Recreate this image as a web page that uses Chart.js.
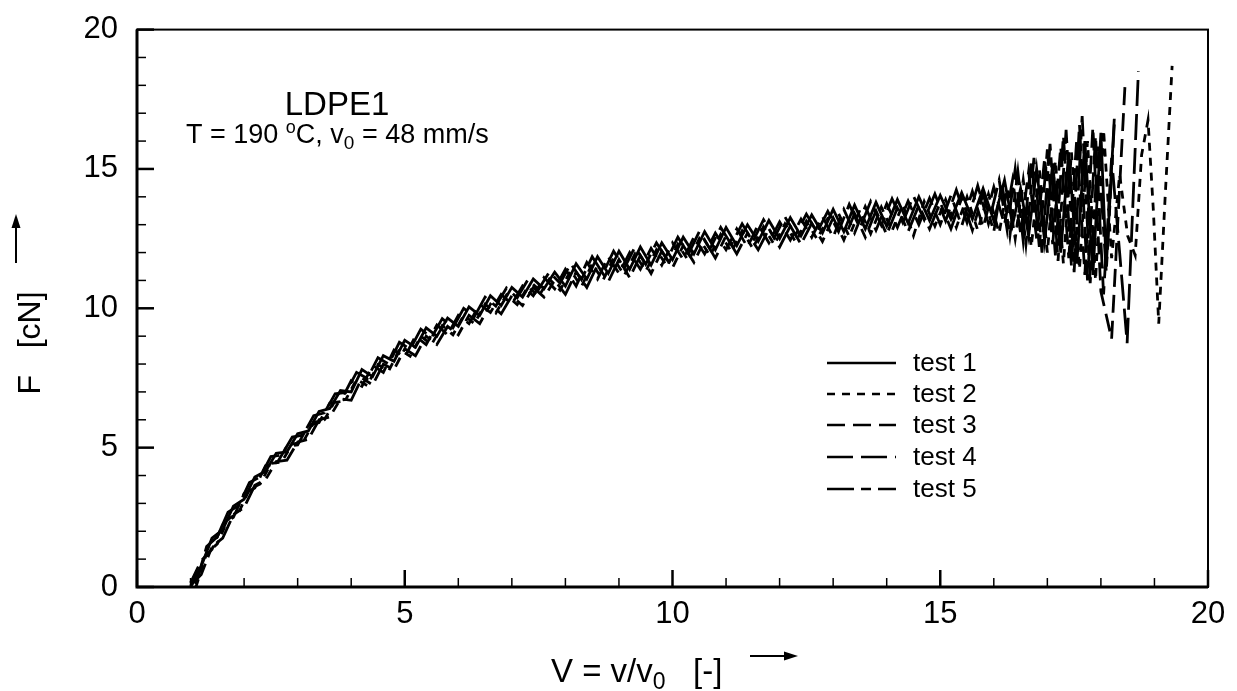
<!DOCTYPE html>
<html>
<head>
<meta charset="utf-8">
<script src="https://cdn.jsdelivr.net/npm/chart.js@4"></script>
<style>
  body { margin: 0; background: #fff; }
  canvas { display: block; }
</style>
</head>
<body>
<canvas id="chartForce" width="1237" height="691"></canvas>
<script>
// stretch ratio V on shared grids
const vGridA = [1.0, 1.2, 1.4, 1.6, 1.8, 2.0, 2.2, 2.4, 2.6, 2.8, 3.0, 3.2, 3.4, 3.6, 3.8, 4.0, 4.2, 4.4, 4.6, 4.8,
    5.0, 5.2, 5.4, 5.6, 5.8, 6.0, 6.2, 6.4, 6.6, 6.8, 7.0, 7.2, 7.4, 7.6, 7.8, 8.0, 8.2, 8.4, 8.6, 8.8,
    9.0, 9.2, 9.4, 9.6, 9.8, 10.0, 10.2, 10.4, 10.6, 10.8, 11.0, 11.2, 11.4, 11.6, 11.8, 12.0, 12.2, 12.4, 12.6, 12.8,
    13.0, 13.2, 13.4, 13.6, 13.8, 14.0, 14.2, 14.4, 14.6, 14.8, 15.0, 15.2, 15.4, 15.6, 15.8, 16.0];
const vGridB = [1.1, 1.3, 1.5, 1.7, 1.9, 2.1, 2.3, 2.5, 2.7, 2.9, 3.1, 3.3, 3.5, 3.7, 3.9, 4.1, 4.3, 4.5, 4.7, 4.9,
    5.1, 5.3, 5.5, 5.7, 5.9, 6.1, 6.3, 6.5, 6.7, 6.9, 7.1, 7.3, 7.5, 7.7, 7.9, 8.1, 8.3, 8.5, 8.7, 8.9,
    9.1, 9.3, 9.5, 9.7, 9.9, 10.1, 10.3, 10.5, 10.7, 10.9, 11.1, 11.3, 11.5, 11.7, 11.9, 12.1, 12.3, 12.5, 12.7, 12.9,
    13.1, 13.3, 13.5, 13.7, 13.9, 14.1, 14.3, 14.5, 14.7, 14.9, 15.1, 15.3, 15.5, 15.7, 15.9];

// force F [cN], body of each test
const forceTest1 = [0.0, 0.75, 1.75, 2.05, 2.9, 3.15, 3.95, 4.15, 4.8, 4.85, 5.5, 5.6, 6.3, 6.4, 7.05, 7.0, 7.8, 7.55, 8.3, 8.1,
    8.85, 8.6, 9.3, 9.0, 9.65, 9.35, 10.05, 9.75, 10.45, 10.1, 10.75, 10.4, 11.05, 10.7, 11.3, 10.8, 11.6, 11.05, 11.85, 11.25,
    12.05, 11.4, 12.2, 11.55, 12.35, 11.75, 12.55, 11.95, 12.75, 12.1, 12.9, 12.25, 13.0, 12.4, 13.15, 12.5, 13.25, 12.6, 13.35, 12.7,
    13.55, 12.75, 13.7, 12.85, 13.8, 12.95, 13.9, 13.05, 14.0, 13.15, 14.05, 13.2, 14.15, 13.2, 14.3, 13.15];
const forceTest2 = [0.0, 1.2, 1.55, 2.43, 2.68, 3.5, 3.7, 4.43, 4.48, 5.13, 5.2, 5.9, 6.0, 6.68, 6.73, 7.45, 7.23, 7.98, 7.75, 8.53,
    8.28, 9.0, 8.7, 9.38, 9.05, 9.75, 9.45, 10.15, 9.83, 10.48, 10.13, 10.78, 10.43, 11.05, 10.65, 11.35, 10.78, 11.6, 11.0, 11.8,
    11.18, 11.95, 11.33, 12.1, 11.5, 12.3, 11.7, 12.5, 11.88, 12.65, 12.03, 12.78, 12.15, 12.93, 12.28, 13.03, 12.38, 13.13, 12.48, 13.23,
    13.4, 12.58, 13.53, 12.68, 13.63, 12.78, 13.73, 12.6, 13.83, 12.95, 13.9, 12.9, 14.0, 12.8, 14.1];
const forceTest3 = [0.15, 0.95, 1.35, 2.25, 2.5, 3.35, 3.55, 4.35, 4.4, 5.05, 5.1, 5.8, 5.9, 6.6, 6.65, 7.4, 7.2, 7.95, 7.7, 8.5,
    8.25, 9.0, 8.7, 9.4, 9.05, 9.75, 9.45, 10.15, 9.85, 10.5, 10.15, 10.8, 10.45, 11.1, 10.7, 11.4, 10.8, 11.65, 11.05, 11.85,
    11.25, 12.0, 11.4, 12.15, 11.55, 12.35, 11.75, 12.55, 11.95, 12.7, 12.1, 12.85, 12.2, 13.0, 12.35, 13.1, 12.45, 13.2, 12.55, 13.3,
    12.55, 13.55, 12.7, 13.65, 12.8, 13.75, 12.9, 13.85, 13.0, 13.95, 13.0, 14.05, 12.95, 14.2, 12.9, 14.35];
const forceTest4 = [0.1, 1.45, 1.8, 2.68, 2.93, 3.75, 3.95, 4.68, 4.73, 5.38, 5.45, 6.15, 6.25, 6.93, 6.98, 7.7, 7.48, 8.23, 8.0, 8.78,
    8.53, 9.25, 8.95, 9.63, 9.3, 10.0, 9.7, 10.4, 10.08, 10.73, 10.38, 11.03, 10.68, 11.3, 10.9, 11.6, 11.03, 11.85, 11.25, 12.05,
    11.43, 12.2, 11.58, 12.35, 11.75, 12.55, 11.95, 12.75, 12.13, 12.9, 12.28, 13.03, 12.4, 13.18, 12.53, 13.28, 12.63, 13.38, 12.73, 13.48,
    12.75, 13.73, 12.88, 13.83, 12.98, 13.93, 13.08, 14.03, 13.18, 14.1, 13.13, 14.25, 13.08, 14.4, 13.03];
const forceTest5 = [0.05, 0.45, 1.45, 1.75, 2.6, 2.85, 3.65, 3.85, 4.5, 4.55, 5.2, 5.3, 6.0, 6.1, 6.75, 6.7, 7.5, 7.25, 8.0, 7.8,
    8.55, 8.3, 9.0, 8.7, 9.35, 9.05, 9.75, 9.45, 10.15, 9.8, 10.45, 10.1, 10.75, 10.4, 11.0, 10.5, 11.3, 10.75, 11.55, 10.95,
    11.75, 11.1, 11.9, 11.25, 12.05, 11.45, 12.25, 11.65, 12.45, 11.8, 12.6, 11.95, 12.7, 12.1, 12.85, 12.2, 12.95, 12.3, 13.05, 12.4,
    13.25, 12.45, 13.4, 12.55, 13.5, 12.65, 13.6, 12.75, 13.7, 12.85, 13.8, 12.85, 13.95, 12.8, 14.1, 12.75];

// unstable end of each test, just before break
const tailV1 = [16.2, 16.35, 16.5, 16.65, 16.8, 16.95, 17.1, 17.25, 17.4, 17.55, 17.7, 17.85, 18.0, 18.1, 18.25];
const tailF1 = [14.6, 13.0, 14.3, 12.6, 15.0, 12.4, 15.2, 12.0, 15.6, 11.6, 16.0, 11.2, 16.3, 11.5, 16.8];
const tailV2 = [16.1, 16.25, 16.4, 16.55, 16.7, 16.85, 17.0, 17.15, 17.3, 17.45, 17.6, 17.75, 17.9, 18.05, 18.2, 18.35, 18.5, 18.64, 18.76, 18.88, 18.98, 19.08, 19.2, 19.33];
const tailF2 = [12.7, 14.3, 12.5, 14.6, 12.2, 15.0, 12.0, 15.3, 11.6, 15.6, 11.4, 16.0, 11.0, 16.4, 11.8, 14.8, 12.6, 11.9, 15.5, 16.75, 13.5, 9.45, 14.0, 18.7];
const tailV3 = [16.2, 16.35, 16.5, 16.65, 16.8, 16.95, 17.1, 17.25, 17.4, 17.55, 17.7, 17.85, 18.0, 18.2, 18.45];
const tailF3 = [13.0, 14.6, 12.7, 14.9, 12.5, 15.4, 12.3, 15.8, 11.8, 16.1, 11.2, 16.5, 10.6, 8.9, 18.0];
const tailV4 = [16.1, 16.25, 16.4, 16.55, 16.7, 16.85, 17.0, 17.15, 17.3, 17.45, 17.6, 17.75, 17.9, 18.05, 18.2, 18.35, 18.49, 18.7];
const tailF4 = [14.6, 12.8, 15.0, 12.4, 15.3, 12.2, 15.7, 11.9, 16.2, 11.5, 16.6, 11.0, 16.2, 10.5, 15.4, 12.0, 8.75, 18.5];
const tailV5 = [16.15, 16.3, 16.45, 16.6, 16.75, 16.9, 17.05, 17.2, 17.35, 17.5, 17.65, 17.8, 17.95, 18.1, 18.25];
const tailF5 = [14.5, 12.6, 14.9, 12.3, 15.4, 12.0, 15.9, 11.7, 16.4, 11.3, 16.9, 10.9, 15.8, 11.3, 16.6];

const testLabels = ["test 1", "test 2", "test 3", "test 4", "test 5"];
const xTickLabels = [0, 5, 10, 15, 20];
const yTickLabels = [0, 5, 10, 15, 20];

const FONT = "'Liberation Sans', Arial, sans-serif";

function toPoints(xs, ys, tx, ty) {
    const pts = xs.map((x, i) => ({ x: x, y: ys[i] }));
    return pts.concat(tx.map((x, i) => ({ x: x, y: ty[i] })));
}

const dashes = [[], [8, 7], [18, 8], [26, 8], [27, 7, 10, 7]];
const series = [
    toPoints(vGridA, forceTest1, tailV1, tailF1),
    toPoints(vGridB, forceTest2, tailV2, tailF2),
    toPoints(vGridA, forceTest3, tailV3, tailF3),
    toPoints(vGridB, forceTest4, tailV4, tailF4),
    toPoints(vGridA, forceTest5, tailV5, tailF5),
];

// draw text made of runs [text, size, dy] (for sub/superscripts)
function drawRuns(ctx, x, y, runs, align) {
    let total = 0;
    runs.forEach(r => { ctx.font = r[1] + 'px ' + FONT; total += ctx.measureText(r[0]).width; });
    let cx = align === 'center' ? x - total / 2 : x;
    ctx.textAlign = 'left';
    runs.forEach(r => {
        ctx.font = r[1] + 'px ' + FONT;
        ctx.fillText(r[0], cx, y + r[2]);
        cx += ctx.measureText(r[0]).width;
    });
}

function arrow(ctx, x1, y1, x2, y2) {
    const ang = Math.atan2(y2 - y1, x2 - x1);
    ctx.lineWidth = 2;
    ctx.setLineDash([]);
    ctx.beginPath();
    ctx.moveTo(x1, y1);
    ctx.lineTo(x2 - 12 * Math.cos(ang), y2 - 12 * Math.sin(ang));
    ctx.stroke();
    ctx.beginPath();
    ctx.moveTo(x2, y2);
    ctx.lineTo(x2 - 14 * Math.cos(ang) + 4.5 * Math.sin(ang), y2 - 14 * Math.sin(ang) - 4.5 * Math.cos(ang));
    ctx.lineTo(x2 - 14 * Math.cos(ang) - 4.5 * Math.sin(ang), y2 - 14 * Math.sin(ang) + 4.5 * Math.cos(ang));
    ctx.closePath();
    ctx.fill();
}

const decorations = {
    id: 'decorations',
    afterDraw(chart) {
        const { ctx, chartArea: a, scales: { x, y } } = chart;
        ctx.save();
        ctx.strokeStyle = '#000';
        ctx.fillStyle = '#000';
        ctx.setLineDash([]);

        // frame
        ctx.lineWidth = 2;
        ctx.strokeRect(a.left, a.top, a.right - a.left, a.bottom - a.top);
        ctx.lineWidth = 3;
        ctx.beginPath();
        ctx.moveTo(a.left, a.top);
        ctx.lineTo(a.left, a.bottom);
        ctx.lineTo(a.right, a.bottom);
        ctx.stroke();

        // inward ticks
        x.ticks.forEach(t => {
            const px = x.getPixelForValue(t.value);
            const major = t.value % 5 === 0;
            ctx.lineWidth = major ? 2.5 : 1.5;
            ctx.beginPath();
            ctx.moveTo(px, a.bottom);
            ctx.lineTo(px, a.bottom - (major ? 17 : 9));
            ctx.stroke();
        });
        y.ticks.forEach(t => {
            const py = y.getPixelForValue(t.value);
            const major = t.value % 5 === 0;
            ctx.lineWidth = major ? 2.5 : 1.5;
            ctx.beginPath();
            ctx.moveTo(a.left, py);
            ctx.lineTo(a.left + (major ? 17 : 9), py);
            ctx.stroke();
        });

        ctx.textBaseline = 'alphabetic';
        // annotation
        drawRuns(ctx, 337, 115, [["LDPE1", 33, 0]], 'center');
        drawRuns(ctx, 186, 143, [["T = 190 ", 27, 0], ["o", 18, -10], ["C, v", 27, 0], ["0", 19, 6], [" = 48 mm/s", 27, 0]], 'left');

        // x axis title
        drawRuns(ctx, 551, 682, [["V = v/v", 33, 0], ["0", 23, 7], ["   [-]", 33, 0]], 'left');
        arrow(ctx, 750, 656, 798, 656);

        // y axis title
        ctx.save();
        ctx.translate(40, 343);
        ctx.rotate(-Math.PI / 2);
        drawRuns(ctx, 0, 0, [["F   [cN]", 32, 0]], 'center');
        ctx.restore();
        arrow(ctx, 16, 263, 16, 214);

        // legend
        const rows = [363, 394, 425, 457, 489];
        chart.data.datasets.forEach((ds, i) => {
            ctx.lineWidth = 2.5;
            ctx.setLineDash(ds.borderDash);
            ctx.beginPath();
            ctx.moveTo(827, rows[i]);
            ctx.lineTo(896, rows[i]);
            ctx.stroke();
            ctx.setLineDash([]);
            ctx.font = '26px ' + FONT;
            ctx.textBaseline = 'middle';
            ctx.textAlign = 'left';
            ctx.fillText(ds.label, 913, rows[i] + 1);
        });
        ctx.restore();
    }
};

const ctx = document.getElementById('chartForce').getContext('2d');
new Chart(ctx, {
    type: 'scatter',
    data: {
        datasets: series.map((pts, i) => ({
            label: testLabels[i],
            data: pts,
            showLine: true,
            borderColor: '#000',
            borderWidth: 2.8,
            borderDash: dashes[i],
            pointRadius: 0,
            tension: 0,
        }))
    },
    options: {
        responsive: false,
        animation: false,
        devicePixelRatio: 1,
        layout: { padding: { top: 20, right: 29, left: 0, bottom: 0 } },
        scales: {
            x: {
                type: 'linear',
                min: 0,
                max: 20,
                afterFit: s => { s.height = 104; },
                grid: { display: false },
                border: { display: false },
                ticks: {
                    stepSize: 1,
                    autoSkip: false,
                    maxRotation: 0,
                    padding: 1,
                    color: '#000',
                    font: { size: 31, family: FONT },
                    callback: v => xTickLabels.includes(v) ? String(v) : ''
                }
            },
            y: {
                type: 'linear',
                min: 0,
                max: 20,
                afterFit: s => { s.width = 137; },
                grid: { display: false },
                border: { display: false },
                ticks: {
                    stepSize: 1,
                    autoSkip: false,
                    padding: 11,
                    color: '#000',
                    font: { size: 31, family: FONT },
                    callback: v => yTickLabels.includes(v) ? String(v) : ''
                }
            }
        },
        plugins: {
            legend: { display: false },
            title: { display: false },
            tooltip: { enabled: false }
        }
    },
    plugins: [decorations]
});
</script>
</body>
</html>
